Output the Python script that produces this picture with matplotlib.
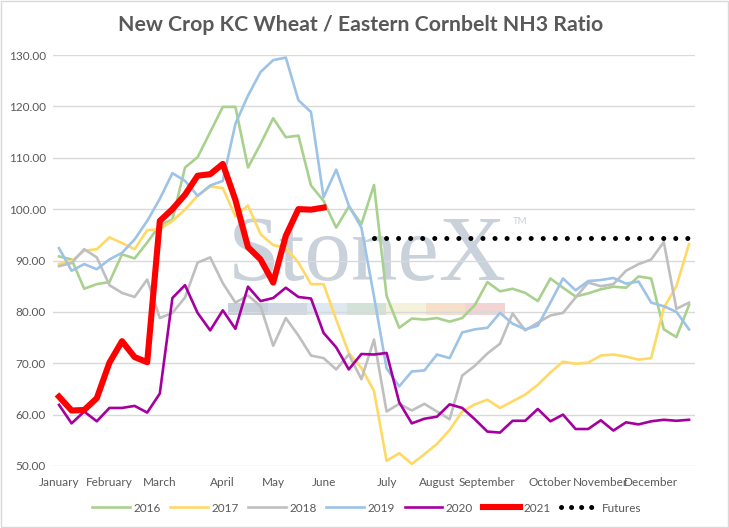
import matplotlib
matplotlib.use("Agg")
import matplotlib.pyplot as plt
from matplotlib.patches import Rectangle
from matplotlib.lines import Line2D
import numpy as np

# ---- data ----
months = ["January", "February", "March", "April", "May", "June", "July",
          "August", "September", "October", "November", "December"]
month_idx = [0, 4, 8, 13, 17, 21, 26, 30, 34, 39, 43, 47]
n_weeks = 51

s2016 = [90.8, 90.2, 84.5, 85.4, 85.8, 91.2, 90.4, 93.5, 96.9, 98.0,
         108.1, 110.1, 115.0, 119.9, 119.9, 108.1, 112.7, 117.7, 114.0, 114.3,
         104.6, 101.6, 96.4, 100.5, 97.1, 104.7, 83.1, 76.9, 78.7, 78.5,
         78.8, 78.1, 78.8, 81.3, 85.8, 84.0, 84.5, 83.7, 82.1, 86.5,
         84.7, 83.0, 83.6, 84.4, 84.9, 84.7, 86.9, 86.5, 76.6, 75.1, 81.3]
s2017 = [89.3, 89.9, 91.9, 92.2, 94.5, 93.4, 92.2, 95.9, 96.1, 97.7,
         99.9, 102.6, 104.4, 104.1, 98.6, 100.7, 95.1, 93.0, 92.5, 89.6,
         85.4, 85.4, 78.5, 72.0, 69.1, 64.6, 51.0, 52.5, 50.4, 52.3,
         54.3, 57.0, 60.6, 62.0, 62.9, 61.3, 62.6, 63.9, 65.8, 68.2,
         70.3, 69.9, 70.1, 71.5, 71.7, 71.3, 70.7, 71.0, 80.8, 85.0, 93.2]
s2018 = [88.9, 89.5, 92.2, 90.6, 85.2, 83.7, 82.9, 86.3, 78.8, 79.8,
         82.8, 89.6, 90.6, 85.6, 81.8, 83.2, 81.1, 73.4, 78.8, 75.4,
         71.5, 71.0, 68.8, 71.7, 66.9, 74.6, 60.6, 62.1, 60.8, 62.1,
         60.6, 59.1, 67.6, 69.5, 71.9, 73.8, 79.7, 76.4, 77.9, 79.3,
         79.8, 82.8, 85.7, 85.0, 85.4, 88.0, 89.3, 90.2, 93.6, 80.6, 81.8]
s2019 = [92.4, 88.0, 89.3, 88.3, 90.2, 91.5, 94.1, 97.7, 102.0, 107.0,
         105.5, 102.6, 104.6, 105.5, 116.6, 122.1, 126.7, 129.0, 129.5, 121.2,
         118.9, 102.3, 107.7, 100.7, 96.4, 83.0, 69.0, 65.5, 68.4, 68.6,
         71.7, 71.0, 76.0, 76.6, 76.9, 79.8, 77.7, 76.6, 77.3, 81.8,
         86.5, 84.2, 86.0, 86.2, 86.6, 85.5, 85.9, 81.8, 81.1, 80.0, 76.6]
s2020 = [61.9, 58.3, 60.6, 58.7, 61.3, 61.3, 61.7, 60.4, 64.1, 82.7,
         85.2, 79.8, 76.4, 80.3, 76.7, 84.9, 82.1, 82.7, 84.7, 82.9,
         82.6, 75.9, 73.1, 68.8, 71.8, 71.7, 72.0, 62.4, 58.3, 59.2,
         59.6, 62.0, 61.3, 59.1, 56.7, 56.5, 58.8, 58.8, 61.1, 58.7,
         60.0, 57.2, 57.2, 58.9, 56.9, 58.5, 58.1, 58.7, 59.0, 58.8, 59.0]
s2021 = [63.5, 60.8, 60.9, 63.2, 70.1, 74.3, 71.2, 70.2, 97.7, 100.0,
         102.8, 106.5, 106.8, 108.8, 101.8, 92.6, 90.2, 85.7, 94.8, 100.0,
         99.9, 100.3]
futures_level = 94.3
futures_start, futures_end = 25, 50

series = [("2016", s2016, "#A9D18E", 1.9),
          ("2017", s2017, "#FFD966", 1.9),
          ("2018", s2018, "#BFBFBF", 1.9),
          ("2019", s2019, "#9DC3E6", 1.9),
          ("2020", s2020, "#A5009F", 1.9),
          ("2021", s2021, "#FF0000", 4.4)]

plt.rcParams['font.family'] = ['Lato', 'DejaVu Sans']
text_color = "#595959"

fig = plt.figure(figsize=(7.29, 5.28), dpi=100)
fig.patches.append(Rectangle((0.002, 0.002), 0.996, 0.996, transform=fig.transFigure,
                             fill=False, edgecolor="#D9D9D9", linewidth=1.0))
ax = fig.add_axes([52.7 / 729, 1 - 466 / 528, 642.6 / 729, 411 / 528])

# watermark (logo)
ax.text(0.273, 0.4526, "StoneX", transform=ax.transAxes, fontsize=67,
        family="Liberation Serif", color="#C9D1DB", va="baseline", ha="left", zorder=0.5)
ax.text(0.716, 0.595, "TM", transform=ax.transAxes, fontsize=7,
        color="#C9D1DB", va="center", ha="left", zorder=0.5)
bar_cols = ["#C8D0DB", "#D0D9E3", "#DDE8F1", "#D3E2D6", "#F5F2DB", "#F6E0CA", "#F3D4D4"]
bx0, bw = (228 - 52.7) / 642.6, (277 / 7) / 642.6
for k, c in enumerate(bar_cols):
    ax.add_patch(Rectangle((bx0 + k * bw, 0.367), bw, 0.03, transform=ax.transAxes,
                           facecolor=c, edgecolor="none", zorder=0.5))

handles = []
for name, vals, col, lw in series:
    x = np.arange(len(vals))
    h, = ax.plot(x, vals, color=col, linewidth=lw, label=name, zorder=3,
                 solid_joinstyle="round")
    handles.append(h)

fx = np.arange(futures_start, futures_end + 1)
ax.plot(fx, [futures_level] * len(fx), color="black", linewidth=3.6,
        linestyle=(0, (0.01, 2.4)), dash_capstyle="round", label="Futures", zorder=4)
handles.append(Line2D([], [], color="black", linewidth=3.6, linestyle=(0, (0.01, 2.0)),
                      dash_capstyle="round", label="Futures"))

ax.set_xlim(-0.5, n_weeks - 0.5)
ax.set_ylim(50, 130)
ax.set_yticks(np.arange(50, 131, 10))
ax.set_yticklabels([f"{v:.2f}" for v in np.arange(50, 131, 10)])
ax.set_xticks(month_idx)
ax.set_xticklabels(months)
ax.grid(axis="y", color="#D9D9D9", linewidth=1.0)
ax.set_axisbelow(True)
for sp in ax.spines.values():
    sp.set_visible(False)
ax.tick_params(axis="both", length=0, colors=text_color, labelsize=8.5)
ax.tick_params(axis="x", pad=8)
ax.tick_params(axis="y", pad=5)

fig.text(0.494, 1 - 25 / 528, "New Crop KC Wheat / Eastern Cornbelt NH3 Ratio",
         ha="center", va="center", fontsize=15.3, fontweight="bold", color=text_color)

leg = fig.legend(handles=handles, loc="center", bbox_to_anchor=(0.503, 1 - 508 / 528),
                 ncol=7, frameon=False, fontsize=8.5, handlelength=3.2,
                 handletextpad=0.3, columnspacing=0.8, labelcolor=text_color)

fig.savefig("out.png", dpi=100)
